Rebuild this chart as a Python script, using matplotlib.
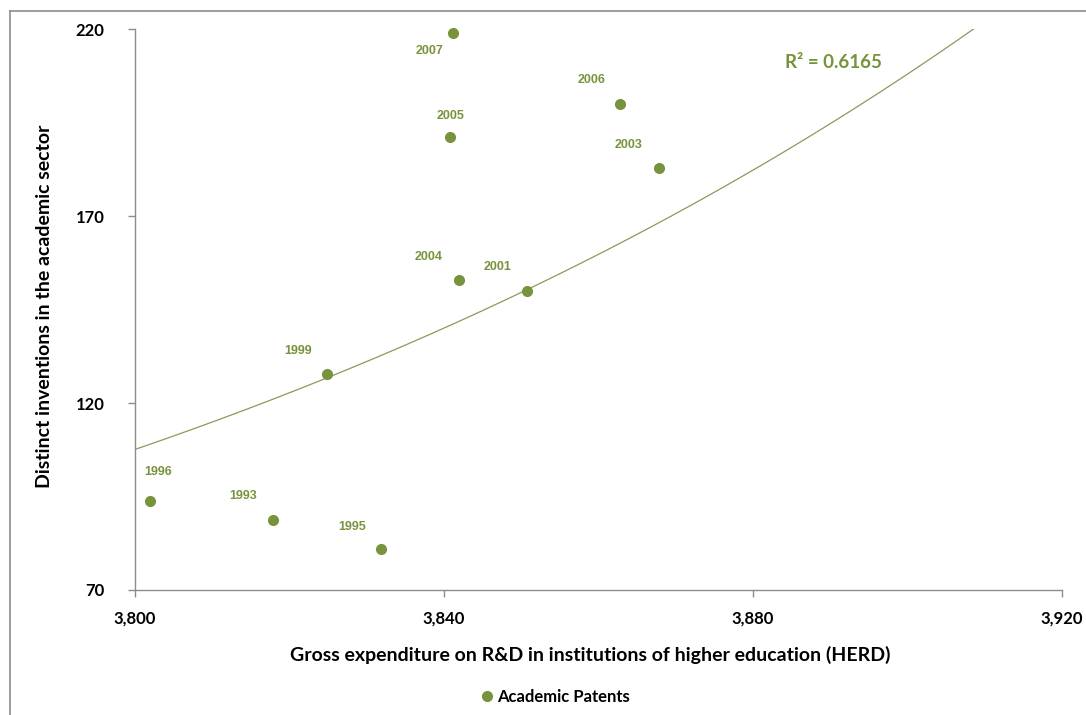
import numpy as np
import matplotlib
matplotlib.use("Agg")
import matplotlib.pyplot as plt
from matplotlib.lines import Line2D
from matplotlib.ticker import FuncFormatter

# ---- data ----
years = ["2007", "2006", "2005", "2003", "2004", "2001", "1999", "1996", "1993", "1995"]
herd = [3841.2, 3862.8, 3840.8, 3867.8, 3841.9, 3850.8, 3824.9, 3801.9, 3817.8, 3831.8]
inventions = [219.1, 200.0, 191.2, 183.0, 153.0, 150.0, 127.8, 93.8, 88.8, 81.0]
x_ticks = [3800, 3840, 3880, 3920]
y_ticks = [70, 120, 170, 220]
# exponential trendline as shown in the chart: y = trend_y0 * exp(trend_rate * (x - 3800))
trend_y0 = 107.6
trend_rate = 0.006592
r2_text = "R\u00b2 = 0.6165"
series_name = "Academic Patents"
x_title = "Gross expenditure on R&D in institutions of higher education (HERD)"
y_title = "Distinct inventions in the academic sector"

# label offsets in pixels (dx, dy) relative to point
label_offsets = {
    "2007": (-24, -18), "2006": (-29, 24), "2005": (0, 21), "2003": (-30, 23),
    "2004": (-30, 23), "2001": (-30, 24), "1999": (-29, 23), "1996": (8, 29),
    "1993": (-29, 24), "1995": (-29, 22),
}

GREEN = "#77933C"
W, H = 1086, 715
fig = plt.figure(figsize=(W / 100, H / 100), dpi=100)
ax = fig.add_axes([135 / W, 1 - 590 / H, (1062 - 135) / W, (590 - 29.3) / H])

ax.set_xlim(3800, 3920)
ax.set_ylim(70, 220)

ax.scatter(herd, inventions, s=64, color=GREEN, zorder=3, clip_on=False, linewidths=0)

xs = np.linspace(3800, 3920, 400)
ax.plot(xs, trend_y0 * np.exp(trend_rate * (xs - 3800)), color="#8A9A5B", lw=0.9, zorder=2)

for yr, x, y in zip(years, herd, inventions):
    dx, dy = label_offsets[yr]
    ax.annotate(yr, (x, y), xytext=(dx, dy), textcoords="offset pixels",
                ha="center", va="center", fontsize=9, fontweight="bold",
                color=GREEN, family="Liberation Sans")

ax.text(833, H - 63, r2_text, transform=None, ha="center", va="center",
        fontsize=13.5, fontweight="bold", color=GREEN, family="Lato")

for s in ["top", "right"]:
    ax.spines[s].set_visible(False)
for s in ["left", "bottom"]:
    ax.spines[s].set_color("#8C8C8C")
    ax.spines[s].set_linewidth(1.0)

ax.set_xticks(x_ticks)
ax.set_yticks(y_ticks)
ax.xaxis.set_major_formatter(FuncFormatter(lambda v, p: f"{int(v):,}"))
ax.tick_params(axis="both", direction="out", length=5, width=1, color="#8C8C8C",
               labelsize=12, labelcolor="black")
ax.tick_params(axis="x", pad=10)
ax.tick_params(axis="y", pad=17)
for lab in ax.get_xticklabels() + ax.get_yticklabels():
    lab.set_fontweight("bold")
    lab.set_family("Lato")

fig.text(590 / W, 1 - 655 / H, x_title, ha="center", va="center",
         fontsize=14, fontweight="bold", family="Lato")
fig.text(45 / W, 1 - 306 / H, y_title, ha="center", va="center", rotation=90,
         fontsize=14, fontweight="bold", family="Lato")

# legend
fig.add_artist(Line2D([487 / W], [1 - 696 / H], marker="o", color=GREEN,
                      markersize=7, linestyle="none", transform=fig.transFigure))
fig.text(497 / W, 1 - 697 / H, series_name, ha="left", va="center",
         fontsize=12, fontweight="bold", family="Lato")

# chart border (left and top)
fig.add_artist(Line2D([10 / W, 10 / W], [0, 1 - 11 / H], color="#8C8C8C", lw=1.2,
                      transform=fig.transFigure))
fig.add_artist(Line2D([10 / W, 1], [1 - 11 / H, 1 - 11 / H], color="#8C8C8C", lw=1.2,
                      transform=fig.transFigure))

fig.savefig("out.png", dpi=100)
